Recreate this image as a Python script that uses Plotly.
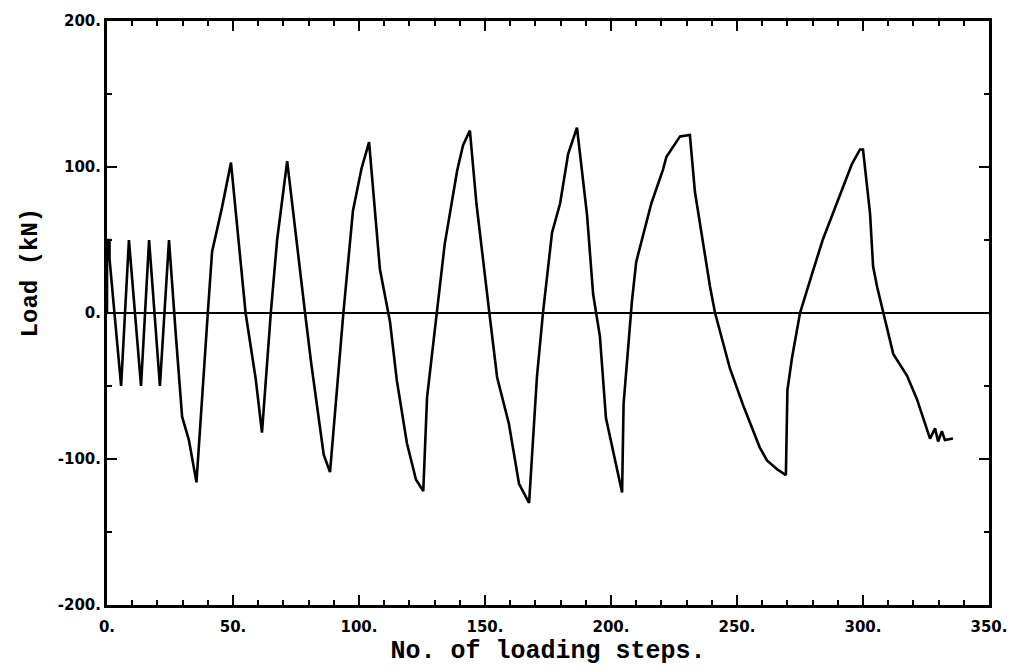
import plotly.graph_objects as go

# Data (load history)
steps = [0, 0, 1, 1, 5.6, 8.7, 13.5, 16.7, 21, 24.6, 27.4, 29.8, 32.5, 35.5,
         40, 41.7, 45.6, 49.2, 55, 59, 61.5, 65, 67.5, 71.5, 78.6, 81, 86, 88.5,
         93.8, 97.6, 101, 104, 108.3, 112.3, 115, 119, 122.6, 125.5, 127, 131,
         134, 139, 141.3, 144, 146.6, 151.6, 154.8, 159.5, 163.5, 167.5, 170.6,
         173, 176.6, 179.8, 183, 186.5, 190.5, 192.9, 195.6, 198, 202, 204.4,
         205, 208.3, 210, 216, 220.6, 222, 227.4, 231.3, 233.3, 236.5, 239.3,
         241.3, 247.2, 252.4, 259, 261.9, 265.9, 269.4, 270, 271.8, 275, 280,
         284, 288, 292, 295.6, 298.8, 300, 302.8, 304, 305.6, 308, 312, 317.5,
         321.4, 326.6, 328.6, 329.8, 331.3, 332.5, 335.7]
load_kn = [0, 50, 50, 37, -50, 50, -50, 50, -50, 50, -17, -71, -87, -116,
           0, 42, 72, 103, 0, -45, -82, 0, 50, 104, 0, -34, -97, -109,
           0, 70, 99, 117, 30, -6, -46, -89, -114, -122, -58, 0,
           47, 98, 115, 125, 75, 2, -44, -76, -117, -130, -44,
           0, 55, 75, 109, 127, 67, 13, -16, -72, -103, -123,
           -62, 8, 35, 75, 98, 107, 121, 122, 83, 47, 18,
           0, -38, -63, -92, -101, -107, -111, -53, -31, 0, 28,
           50, 68, 86, 102, 112, 112, 68, 32, 18, 0, -28, -43,
           -59, -86, -79, -88, -81, -87, -86]

x_ticks = [0, 50, 100, 150, 200, 250, 300, 350]
x_tick_labels = ["0.", "50.", "100.", "150.", "200.", "250.", "300.", "350."]
y_ticks = [-200, -100, 0, 100, 200]
y_tick_labels = ["-200.", "-100.", "0.", "100.", "200."]

title_font = dict(family="Liberation Mono", size=25, color="black", weight="bold")
tick_font = dict(family="DejaVu Sans", size=15, color="black", weight="bold")

fig = go.Figure()
fig.add_trace(go.Scatter(x=steps, y=load_kn, mode="lines",
                         line=dict(color="black", width=2.6),
                         showlegend=False, hoverinfo="skip"))

fig.update_layout(
    width=1020, height=672,
    paper_bgcolor="white", plot_bgcolor="white",
    margin=dict(l=107, r=30, t=14, b=67),
    xaxis=dict(range=[0, 350], tickvals=x_ticks, ticktext=x_tick_labels,
               ticks="inside", ticklen=10, tickwidth=2, tickcolor="black",
               minor=dict(dtick=10, ticks="inside", ticklen=5, tickwidth=2, tickcolor="black"),
               showline=True, linecolor="black", linewidth=3, mirror="ticks",
               showgrid=False, zeroline=False, tickfont=tick_font,
               ticklabelstandoff=6,
               title=dict(text="No. of loading steps.", font=title_font, standoff=6)),
    yaxis=dict(range=[-200, 200], tickvals=y_ticks, ticktext=y_tick_labels,
               ticks="inside", ticklen=10, tickwidth=2, tickcolor="black",
               minor=dict(dtick=50, ticks="inside", ticklen=5, tickwidth=2, tickcolor="black"),
               showline=True, linecolor="black", linewidth=3, mirror="ticks",
               showgrid=False, zeroline=True, zerolinecolor="black", zerolinewidth=2,
               tickfont=tick_font),
    annotations=[dict(text="Load (kN)", font=dict(family="Liberation Mono", size=24,
                                                  color="black", weight="bold"),
                      textangle=-90, xref="paper", yref="paper",
                      x=-0.087, y=0.57, xanchor="center", yanchor="middle",
                      showarrow=False)],
)

fig.write_html("out.html")
